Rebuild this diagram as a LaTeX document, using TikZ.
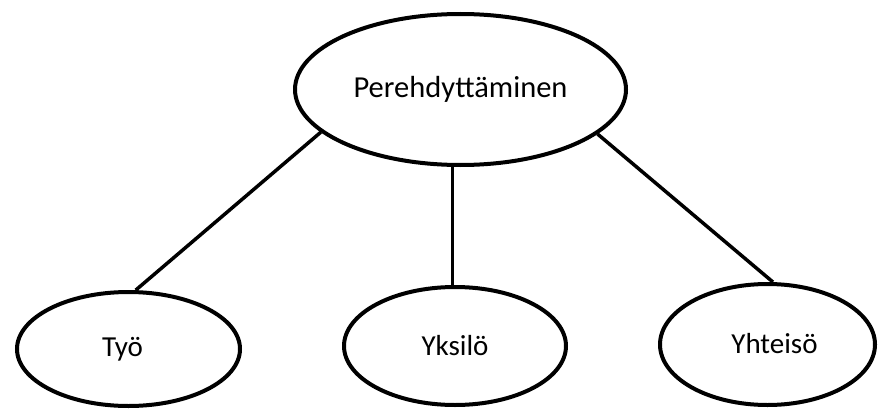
\documentclass[tikz,border=0pt]{standalone}
\usepackage{fontspec}
\setmainfont{Carlito}
\usetikzlibrary{shapes.geometric}
\tikzstyle{topic} = [ellipse, inner sep=0pt, text centered, draw=black, line width=4pt, font=\fontsize{29}{34}\selectfont]
\tikzstyle{link} = [line width=3.5pt]

\begin{document}
\begin{tikzpicture}[x=1pt, y=-1pt] % 1 unit = 1 px of the reference

\useasboundingbox (0,0) rectangle (878,412);

% Nodes
\node (perehdyttaminen) [topic, minimum width=331pt, minimum height=151pt, font=\fontsize{30.5}{36}\selectfont] at (460.5,89.5) {Perehdyttäminen};
\node (tyo) [topic, minimum width=223pt, minimum height=114pt] at (128.5,349) {\raisebox{-4pt}{Työ}\hspace*{12pt}};
\node (yksilo) [topic, minimum width=222pt, minimum height=118pt] at (455,346) {Yksilö};
\node (yhteiso) [topic, minimum width=215pt, minimum height=121pt] at (767.5,344.5) {\hspace*{14pt}\raisebox{3pt}{Yhteisö}};

% Lines
\draw [link] (perehdyttaminen.197) -- (tyo.83);
\draw [link] (perehdyttaminen.264) -- (perehdyttaminen.264 |- yksilo.north);
\draw [link] (perehdyttaminen.342) -- (yhteiso.85);

\end{tikzpicture}
\end{document}
